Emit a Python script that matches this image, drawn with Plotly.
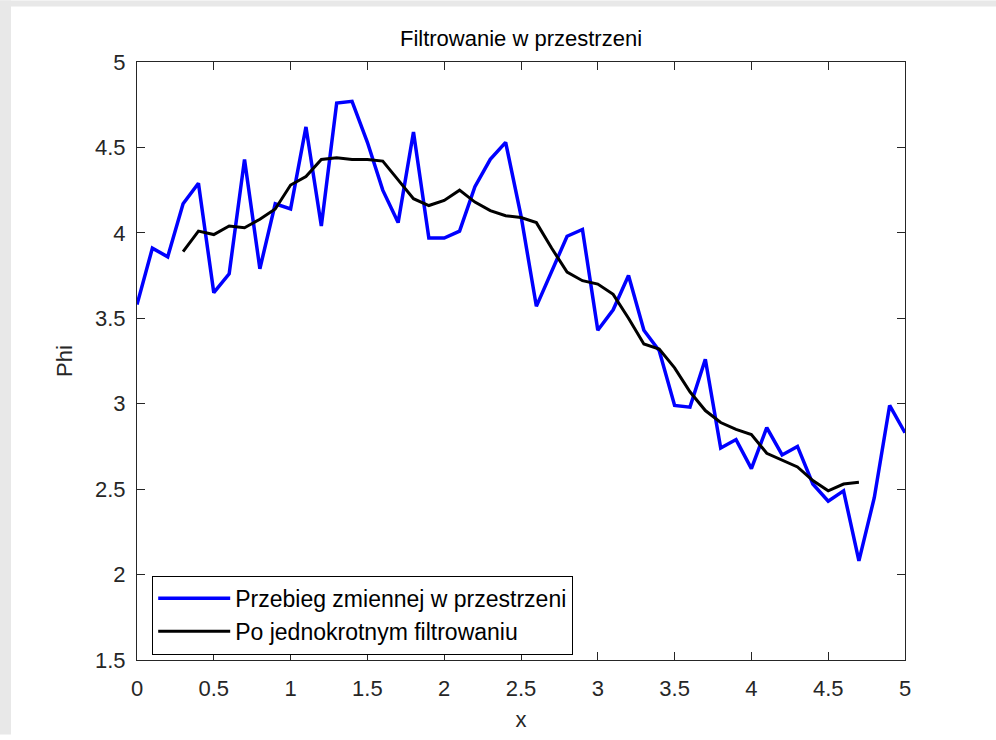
import plotly.graph_objects as go

x_raw = [round(i * 0.1, 1) for i in range(51)]
phi_raw = [3.58, 3.91, 3.86, 4.17, 4.29, 3.65, 3.76, 4.43, 3.79, 4.17,
           4.14, 4.62, 4.04, 4.76, 4.77, 4.53, 4.25, 4.06, 4.59, 3.97,
           3.97, 4.01, 4.27, 4.43, 4.53, 4.10, 3.57, 3.77, 3.98, 4.02,
           3.43, 3.55, 3.75, 3.43, 3.31, 2.99, 2.98, 3.26, 2.74, 2.79,
           2.62, 2.86, 2.70, 2.75, 2.53, 2.43, 2.49, 2.08, 2.45, 2.99,
           2.83]

x_filt = [round(0.3 + i * 0.1, 1) for i in range(45)]
phi_filt = [3.89, 4.01, 3.99, 4.04, 4.03, 4.08, 4.14, 4.28, 4.33, 4.43,
            4.44, 4.43, 4.43, 4.42, 4.31, 4.20, 4.16, 4.19, 4.25, 4.18,
            4.13, 4.10, 4.09, 4.06, 3.91, 3.77, 3.72, 3.70, 3.64, 3.50,
            3.35, 3.32, 3.21, 3.07, 2.96, 2.89, 2.85, 2.82, 2.71, 2.67,
            2.63, 2.55, 2.49, 2.53, 2.54]

x_ticks = [0, 0.5, 1, 1.5, 2, 2.5, 3, 3.5, 4, 4.5, 5]
x_ticktext = ["0", "0.5", "1", "1.5", "2", "2.5", "3", "3.5", "4", "4.5", "5"]
y_ticks = [1.5, 2, 2.5, 3, 3.5, 4, 4.5, 5]
y_ticktext = ["1.5", "2", "2.5", "3", "3.5", "4", "4.5", "5"]

FONT = "Liberation Sans, Arial, sans-serif"
W, H = 996, 740
L, R, T, B = 137, 91, 62, 75
pw, ph = W - L - R, H - T - B

fig = go.Figure()
fig.add_trace(go.Scatter(x=x_raw, y=phi_raw, mode="lines",
                         line=dict(color="#0000ff", width=3.5),
                         name="Przebieg zmiennej w przestrzeni"))
fig.add_trace(go.Scatter(x=x_filt, y=phi_filt, mode="lines",
                         line=dict(color="#000000", width=3),
                         name="Po jednokrotnym filtrowaniu"))

axis_common = dict(showgrid=False, zeroline=False, showline=True, linecolor="#262626",
                   linewidth=1.2, mirror="ticks", ticks="inside", ticklen=8,
                   tickwidth=1.2, tickcolor="#262626",
                   tickfont=dict(family=FONT, size=22, color="#262626"))

fig.update_xaxes(range=[0, 5], tickvals=x_ticks, ticktext=x_ticktext,
                 ticklabelstandoff=8,
                 title=dict(text="x", font=dict(family=FONT, size=22, color="#262626"), standoff=12),
                 **axis_common)
fig.update_yaxes(range=[1.5, 5], tickvals=y_ticks, ticktext=y_ticktext,
                 ticklabelstandoff=6,
                 title=dict(text="Phi", font=dict(family=FONT, size=22, color="#262626"), standoff=16),
                 **axis_common)

# grey window border (top and left)
shapes = [
    dict(type="rect", xref="paper", yref="paper", layer="below",
         x0=-L / pw, x1=(11 - L) / pw, y0=-B / ph, y1=(T + ph) / ph,
         fillcolor="#e8e8e8", line=dict(width=0)),
    dict(type="rect", xref="paper", yref="paper", layer="below",
         x0=-L / pw, x1=(W - L) / pw, y0=(ph + T - 6) / ph, y1=(ph + T) / ph,
         fillcolor="#e8e8e8", line=dict(width=0)),
]

fig.update_layout(
    width=W, height=H,
    margin=dict(l=L, r=R, t=T, b=B),
    paper_bgcolor="white", plot_bgcolor="white",
    font=dict(family=FONT, size=22, color="#262626"),
    title=dict(text="Filtrowanie w przestrzeni", x=(L + pw / 2) / W, xanchor="center",
               y=(H - 38) / H, yanchor="middle", yref="container",
               font=dict(family=FONT, size=22, color="#000000")),
    showlegend=True,
    legend=dict(x=(152 - L) / pw, y=(H - B - 580) / ph, xanchor="left", yanchor="top",
                bgcolor="white", bordercolor="#000000", borderwidth=1.2,
                itemwidth=72, font=dict(family=FONT, size=23, color="#000000"),
                tracegroupgap=0),
    shapes=shapes,
)

fig.write_html("out.html")
